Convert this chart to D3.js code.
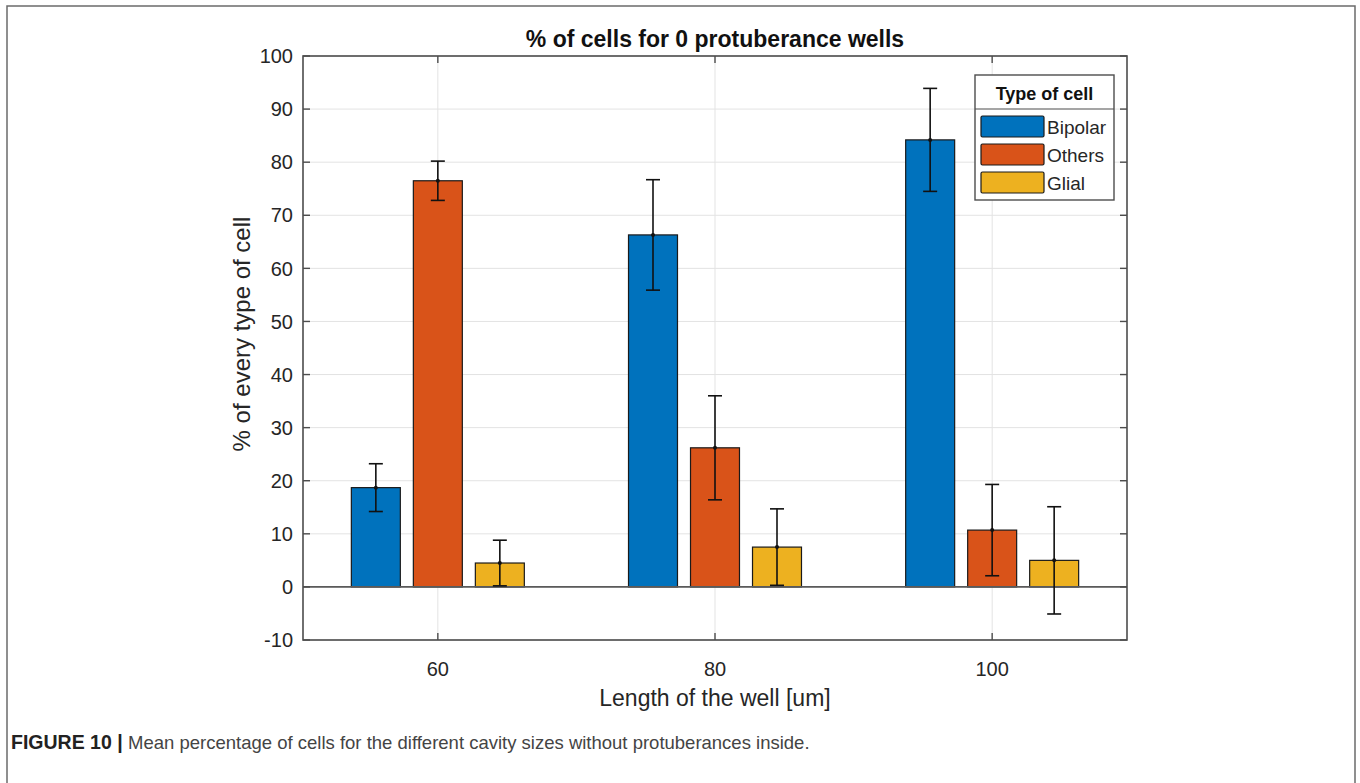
<!DOCTYPE html>
<html>
<head>
<meta charset="utf-8">
<script src="https://cdn.jsdelivr.net/npm/d3@7"></script>
<style>
  body { margin: 0; background: #fff; }
  svg { display: block; font-family: 'Liberation Sans', Arial, Helvetica, sans-serif; }
</style>
</head>
<body>
<svg id="chart" width="1360" height="783"></svg>
<script>
// values
const categories = [60, 80, 100]
const cellTypes = ['Bipolar', 'Others', 'Glial']
const bipolarMean = [18.7, 66.3, 84.2]
const bipolarErr = [4.5, 10.4, 9.7]
const othersMean = [76.5, 26.2, 10.7]
const othersErr = [3.7, 9.8, 8.6]
const glialMean = [4.5, 7.5, 5.0]
const glialErr = [4.3, 7.2, 10.1]
const yTickValues = [-10, 0, 10, 20, 30, 40, 50, 60, 70, 80, 90, 100]

const colors = { Bipolar: '#0072BD', Others: '#D95319', Glial: '#EDB120' }
const axisColor = '#4d4d4d'

const rows = []
categories.forEach((c, i) => {
  rows.push({ cat: c, type: 'Bipolar', mean: bipolarMean[i], err: bipolarErr[i] })
  rows.push({ cat: c, type: 'Others', mean: othersMean[i], err: othersErr[i] })
  rows.push({ cat: c, type: 'Glial', mean: glialMean[i], err: glialErr[i] })
})

const svg = d3.select('#chart')
const plot = { left: 303, right: 1127, top: 56, bottom: 640 }

const x = d3.scaleLinear().domain([50.27, 109.73]).range([plot.left, plot.right])
const y = d3.scaleLinear().domain([-10, 100]).range([plot.bottom, plot.top])
const xSub = d3.scaleBand()
  .domain(cellTypes)
  .range([-93, 93])
  .paddingInner(0.21)
  .paddingOuter(0.105)

// figure frame
svg.append('path')
  .attr('d', 'M7,790V6H1355V790')
  .attr('fill', 'none')
  .attr('stroke', '#6b6b6b')
  .attr('stroke-width', 1.5)

// grid
const grid = svg.append('g').attr('stroke', '#e3e3e3').attr('stroke-width', 1)
grid.selectAll('.gy')
  .data(yTickValues)
  .join('line')
  .attr('x1', plot.left).attr('x2', plot.right)
  .attr('y1', d => y(d)).attr('y2', d => y(d))
grid.selectAll('.gx')
  .data(categories)
  .join('line')
  .attr('x1', d => x(d)).attr('x2', d => x(d))
  .attr('y1', plot.top).attr('y2', plot.bottom)

// bars
svg.append('g')
  .selectAll('rect')
  .data(rows)
  .join('rect')
  .attr('x', d => x(d.cat) + xSub(d.type))
  .attr('width', xSub.bandwidth())
  .attr('y', d => y(Math.max(0, d.mean)))
  .attr('height', d => Math.abs(y(d.mean) - y(0)))
  .attr('fill', d => colors[d.type])
  .attr('stroke', '#1a1a1a')
  .attr('stroke-width', 1.2)

// base line at zero
svg.append('line')
  .attr('x1', plot.left).attr('x2', plot.right)
  .attr('y1', y(0)).attr('y2', y(0))
  .attr('stroke', '#5a5a5a')
  .attr('stroke-width', 1.8)

// error bars
const errG = svg.append('g')
  .attr('stroke', '#111')
  .attr('stroke-width', 1.6)
  .selectAll('g')
  .data(rows)
  .join('g')
  .attr('transform', d => `translate(${x(d.cat) + xSub(d.type) + xSub.bandwidth() / 2},0)`)
errG.append('line')
  .attr('y1', d => y(d.mean - d.err)).attr('y2', d => y(d.mean + d.err))
errG.append('line')
  .attr('x1', -7).attr('x2', 7)
  .attr('y1', d => y(d.mean + d.err)).attr('y2', d => y(d.mean + d.err))
errG.append('line')
  .attr('x1', -7).attr('x2', 7)
  .attr('y1', d => y(d.mean - d.err)).attr('y2', d => y(d.mean - d.err))
errG.append('circle')
  .attr('cy', d => y(d.mean))
  .attr('r', 2)
  .attr('fill', '#111')
  .attr('stroke', 'none')

// axes box and inward ticks
svg.append('rect')
  .attr('x', plot.left).attr('y', plot.top)
  .attr('width', plot.right - plot.left).attr('height', plot.bottom - plot.top)
  .attr('fill', 'none')
  .attr('stroke', axisColor)
  .attr('stroke-width', 1.6)

const ticks = svg.append('g').attr('stroke', axisColor).attr('stroke-width', 1.4)
ticks.selectAll('.tl')
  .data(yTickValues)
  .join('line')
  .attr('x1', plot.left).attr('x2', plot.left + 7)
  .attr('y1', d => y(d)).attr('y2', d => y(d))
ticks.selectAll('.tr')
  .data(yTickValues)
  .enter()
  .append('line')
  .attr('x1', plot.right).attr('x2', plot.right - 7)
  .attr('y1', d => y(d)).attr('y2', d => y(d))
ticks.selectAll('.tb')
  .data(categories)
  .enter()
  .append('line')
  .attr('x1', d => x(d)).attr('x2', d => x(d))
  .attr('y1', plot.bottom).attr('y2', plot.bottom - 7)
ticks.selectAll('.tt')
  .data(categories)
  .enter()
  .append('line')
  .attr('x1', d => x(d)).attr('x2', d => x(d))
  .attr('y1', plot.top).attr('y2', plot.top + 7)

// tick labels
svg.append('g')
  .attr('font-size', 20)
  .attr('fill', '#262626')
  .attr('text-anchor', 'end')
  .selectAll('text')
  .data(yTickValues)
  .join('text')
  .attr('x', plot.left - 10)
  .attr('y', d => y(d))
  .attr('dy', '0.36em')
  .text(d => d)

svg.append('g')
  .attr('font-size', 20)
  .attr('fill', '#262626')
  .attr('text-anchor', 'middle')
  .selectAll('text')
  .data(categories)
  .join('text')
  .attr('x', d => x(d))
  .attr('y', plot.bottom + 36)
  .text(d => d)

// titles
svg.append('text')
  .attr('x', (plot.left + plot.right) / 2)
  .attr('y', 47)
  .attr('text-anchor', 'middle')
  .attr('font-size', 23)
  .attr('font-weight', 'bold')
  .attr('fill', '#111')
  .text('% of cells for 0 protuberance wells')

svg.append('text')
  .attr('x', (plot.left + plot.right) / 2)
  .attr('y', 706)
  .attr('text-anchor', 'middle')
  .attr('font-size', 23)
  .attr('fill', '#262626')
  .text('Length of the well [um]')

svg.append('text')
  .attr('transform', 'translate(250,334) rotate(-90)')
  .attr('text-anchor', 'middle')
  .attr('font-size', 24)
  .attr('fill', '#262626')
  .text('% of every type of cell')

// legend
const legend = svg.append('g').attr('transform', 'translate(975,75)')
legend.append('rect')
  .attr('width', 139).attr('height', 125)
  .attr('fill', '#fff')
  .attr('stroke', axisColor)
  .attr('stroke-width', 1.4)
legend.append('line')
  .attr('x1', 0).attr('x2', 139)
  .attr('y1', 34).attr('y2', 34)
  .attr('stroke', axisColor)
  .attr('stroke-width', 1.2)
legend.append('text')
  .attr('x', 69.5).attr('y', 25)
  .attr('text-anchor', 'middle')
  .attr('font-size', 18)
  .attr('font-weight', 'bold')
  .attr('fill', '#111')
  .text('Type of cell')
const item = legend.selectAll('.item')
  .data(cellTypes)
  .join('g')
  .attr('transform', (d, i) => `translate(6,${41 + i * 28})`)
item.append('rect')
  .attr('width', 63).attr('height', 21)
  .attr('rx', 1.5)
  .attr('fill', d => colors[d])
  .attr('stroke', '#1a1a1a')
  .attr('stroke-width', 1.2)
item.append('text')
  .attr('x', 66).attr('y', 11)
  .attr('dy', '0.36em')
  .attr('font-size', 19)
  .attr('fill', '#262626')
  .text(d => d)

// caption
const caption = svg.append('text')
  .attr('x', 11).attr('y', 749)
  .attr('font-size', 18.5)
  .attr('fill', '#444')
caption.append('tspan')
  .attr('font-weight', 'bold')
  .attr('font-size', 19.5)
  .attr('fill', '#222')
  .text('FIGURE 10 | ')
caption.append('tspan')
  .text('Mean percentage of cells for the different cavity sizes without protuberances inside.')
</script>
</body>
</html>
